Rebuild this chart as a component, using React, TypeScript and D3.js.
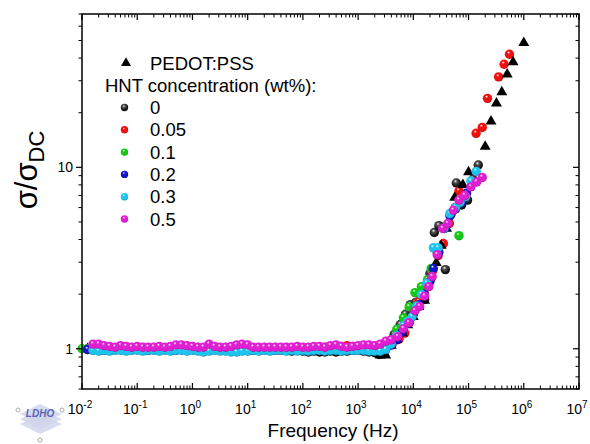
import React from "react";
import * as d3 from "d3";

// ---------- data ----------
const X_TICKS = [-2, -1, 0, 1, 2, 3, 4, 5, 6, 7];
const Y_TICKS = [1, 10];
const LEGEND_TITLE = "HNT concentration (wt%):";
const SERIES_NAMES = ["0", "0.05", "0.1", "0.2", "0.3", "0.5"];
const SERIES_COLORS = ["#111111", "#f01010", "#14c814", "#1414c8", "#1ec4ee", "#e01ed2"];

// shared plateau measurement grid (Hz)
const FLAT_F = [
  0.01, 0.0126, 0.0158, 0.02, 0.0251, 0.0316, 0.0398, 0.0501, 0.0631, 0.0794,
  0.1, 0.126, 0.158, 0.2, 0.251, 0.316, 0.398, 0.501, 0.631, 0.794,
  1, 1.26, 1.58, 2, 2.51, 3.16, 3.98, 5.01, 6.31, 7.94,
  10, 12.6, 15.8, 20, 25.1, 31.6, 39.8, 50.1, 63.1, 79.4,
  100, 126, 158, 200, 251, 316, 398, 501, 631, 794,
  1000, 1260, 1580,
];

// PEDOT:PSS (triangles)
const PED_FLAT = [
  null, 1.0, 1.0, 0.99, 1.0, 1.0, 0.99, 1.0, 1.0, 0.99,
  1.0, 1.0, 0.99, 1.0, 1.0, 0.99, 1.0, 1.0, 1.0, 0.99,
  1.0, 1.0, 0.99, 1.0, 1.0, 0.99, 1.0, 1.0, 1.0, 1.0,
  1.0, 0.99, 1.0, 1.0, 0.99, 1.0, 0.99, 1.0, 0.99, 0.99,
  0.98, 0.99, 0.98, 0.98, 0.99, 0.98, 0.99, 0.98, 0.99, 0.98,
  0.98, 0.97, 0.97,
];
const PED_RISE_F = [2000, 2510, 3160, 3980, 5010, 6310, 7940, 1e4, 1.26e4, 1.45e4, 1.6e4, 2e4, 2.6e4, 3.2e4, 4e4, 5.6e4, 7.9e4, 1e5, 2e5, 2.55e5, 3.2e5, 4e5, 5e5, 6.4e5, 1e6];
const PED_RISE_V = [0.96, 0.92, 0.92, 1.04, 1.12, 1.22, 1.35, 1.5, 1.7, 2.17, 1.84, 2.45, 2.98, 3.7, 4.6, 6.8, 8.0, 9.4, 13, 17.9, 22.5, 26, 32.6, 38, 48.5];

// 0 wt%
const S0_FLAT = [
  null, 0.99, 1.0, 0.99, 0.99, 1.0, 0.99, 0.99, 1.0, 0.99,
  0.99, 1.0, 0.99, 0.99, 0.99, 1.0, 0.99, 0.99, 0.99, 1.0,
  0.99, 0.99, 0.98, 0.99, 0.99, 0.98, 0.99, 0.99, 0.99, 0.99,
  0.99, 0.98, 0.98, 0.99, 0.98, 0.99, 0.98, 0.98, 0.97, 0.98,
  0.97, 0.96, 0.97, 0.96, 0.96, 0.97, 0.96, 0.97, 0.97, 0.98,
  0.98, 0.97, 0.96,
];
const S0_RISE_F = [2000, 2400, 2900, 3500, 4500, 5800, 7200, 8800, 1.1e4, 1.35e4, 1.6e4, 2e4, 2.4e4, 2.9e4, 3.8e4, 4.8e4, 6e4, 7.5e4, 9.6e4, 1.2e5, 1.5e5];
const S0_RISE_V = [0.95, 0.93, 0.94, 1.08, 1.2, 1.36, 1.55, 1.75, 1.8, 1.85, 1.87, 2.6, 4.37, 4.77, 2.73, 5.5, 8.2, 6.2, 6.6, 8.6, 10.3];

// 0.05 wt%
const S1_FLAT = [
  null, 1.0, 1.0, 1.0, 1.0, 0.99, 1.0, 1.0, 1.0, 1.0,
  1.0, 0.99, 1.0, 1.0, 1.0, 1.0, 0.99, 1.0, 1.0, 1.0,
  1.0, 1.0, 1.0, 0.99, 1.0, 1.0, 1.0, 1.0, 1.0, 1.0,
  1.0, 1.0, 1.0, 1.0, 1.0, 1.0, 1.01, 1.0, 1.0, 1.01,
  1.0, 1.01, 1.02, 1.01, 1.02, 1.03, 1.02, 1.03, 1.04, 1.03,
  1.03, 1.02, 1.02,
];
const S1_RISE_F = [2000, 2510, 3160, 4100, 5500, 7000, 8500, 1e4, 1.25e4, 1.55e4, 1.8e4, 2.25e4, 2.8e4, 3.5e4, 4.5e4, 5.7e4, 6.7e4, 1.37e5, 1.77e5, 2.2e5, 3.5e5, 4.4e5, 5.5e5];
const S1_RISE_V = [1.0, 0.99, 1.02, 1.05, 1.13, 1.22, 1.4, 1.6, 1.82, 2.05, 2.29, 2.7, 3.26, 3.8, 4.9, 6.0, 7.4, 15.4, 16.6, 24, 31.5, 37, 42];

// 0.1 wt%
const S2_FLAT = [
  1.0, 1.0, 0.99, 1.0, 1.0, 1.0, 0.99, 1.0, 1.0, 1.0,
  1.0, 1.0, 0.99, 1.0, 1.0, 1.0, 1.0, 0.99, 1.0, 1.0,
  1.0, 0.99, 1.0, 1.0, 1.0, 1.0, 0.99, 1.0, 1.0, 1.0,
  1.0, 1.0, 0.99, 1.0, 1.0, 1.0, 0.99, 1.0, 1.0, 0.99,
  0.99, 1.0, 0.99, 1.0, 0.99, 1.0, 1.0, 0.99, 1.0, 1.0,
  1.0, 1.0, 0.99,
];
const S2_RISE_F = [2000, 2510, 3160, 3980, 5010, 6600, 8400, 1.07e4, 1.4e4, 1.8e4, 2.1e4, 2.7e4, 6.7e4];
const S2_RISE_V = [1.0, 1.0, 1.04, 1.12, 1.28, 1.48, 1.7, 2.04, 2.2, 2.4, 2.77, 3.4, 4.2];

// 0.2 wt%
const S3_FLAT = [
  null, 0.99, 0.99, 0.99, 0.98, 0.99, 0.99, 0.99, 0.98, 0.99,
  0.99, 0.99, 0.98, 0.99, 0.99, 0.99, 0.99, 0.98, 0.99, 0.99,
  0.99, 0.98, 0.99, 0.99, 0.99, 0.98, 0.99, 0.99, 0.99, 0.98,
  0.99, 0.99, 0.98, 0.99, 0.99, 0.98, 0.99, 0.98, 0.98, 0.99,
  0.98, 0.99, 0.98, 0.99, 0.98, 0.99, 0.99, 0.98, 0.99, 0.99,
  0.99, 0.98, 0.98,
];
const S3_RISE_F = [2000, 2510, 3160, 3980, 5010, 6310, 7940, 1e4, 1.26e4, 1.58e4, 2e4, 2.3e4, 2.9e4, 3.7e4, 4.6e4, 5.8e4, 7.5e4, 9.2e4];
const S3_RISE_V = [0.98, 0.97, 0.99, 1.05, 1.12, 1.24, 1.38, 1.55, 1.75, 2.0, 2.35, 2.77, 3.4, 4.6, 5.4, 5.9, 6.4, 7.2];

// 0.3 wt%
const S4_FLAT = [
  null, null, 0.98, 0.97, 0.98, 0.97, 0.98, 0.98, 0.97, 0.98,
  0.98, 0.97, 0.98, 0.98, 0.97, 0.98, 0.97, 0.98, 0.98, 0.97,
  0.98, 0.97, 0.96, 0.97, 0.98, 0.97, 0.97, 0.96, 0.96, 0.97,
  0.97, 0.98, 0.97, 0.98, 0.97, 0.98, 0.98, 0.97, 0.98, 0.97,
  0.98, 0.97, 0.98, 0.98, 0.97, 0.98, 0.98, 0.97, 0.98, 0.98,
  0.98, 0.98, 0.97,
];
const S4_RISE_F = [2000, 2510, 3160, 3980, 5010, 6600, 8000, 9500, 1.15e4, 1.4e4, 1.75e4, 2.3e4, 2.8e4, 3.6e4, 4.6e4, 5.8e4, 7e4, 8.8e4, 1.1e5, 1.37e5];
const S4_RISE_V = [0.97, 0.97, 0.99, 1.06, 1.18, 1.34, 1.42, 1.5, 1.72, 1.99, 2.3, 3.6, 3.6, 4.6, 5.56, 6.0, 6.4, 6.9, 8.4, 9.5];

// 0.5 wt%
const S5_FLAT = [
  null, null, 1.06, 1.06, 1.04, 1.03, 1.02, 1.04, 1.03, 1.02,
  1.03, 1.02, 1.02, 1.02, 1.03, 1.02, 1.03, 1.05, 1.05, 1.04,
  1.03, 1.02, 1.02, 1.06, 1.03, 1.02, 1.02, 1.03, 1.05, 1.06,
  1.05, 1.02, 1.02, 1.02, 1.02, 1.02, 1.02, 1.02, 1.02, 1.03,
  1.02, 1.02, 1.03, 1.03, 1.02, 1.04, 1.05, 1.03, 1.02, 1.03,
  1.04, 1.05, 1.05,
];
const S5_RISE_F = [2000, 2510, 3160, 3980, 5200, 6600, 8300, 1.07e4, 1.3e4, 1.6e4, 1.9e4, 2.2e4, 2.7e4, 3.4e4, 4.2e4, 5.3e4, 6.7e4, 8.5e4, 1.1e5, 1.4e5, 1.77e5];
const S5_RISE_V = [1.04, 1.06, 1.1, 1.12, 1.165, 1.29, 1.39, 1.62, 1.71, 1.95, 2.2, 2.5, 3.3, 4.6, 4.9, 5.8, 6.6, 7.0, 7.8, 8.3, 8.8];

// ---------- helpers ----------
type Pt = { f: number; v: number };
function build(flat: (number | null)[], rf: number[], rv: number[]): Pt[] {
  const pts: Pt[] = [];
  flat.forEach((v, i) => {
    if (v != null) pts.push({ f: FLAT_F[i], v });
  });
  rf.forEach((f, i) => pts.push({ f, v: rv[i] }));
  return pts;
}

const W = 590;
const H = 444;
const L = 82, R = 579, T = 14, B = 389;
const FONT = "'Liberation Sans', Arial, Helvetica, sans-serif";

export default function App() {
  const x = d3.scaleLog().domain([1e-2, 1e7]).range([L, R]);
  const y = d3.scaleLog().domain([0.6, 70]).range([B, T]);

  const circleSeries = [
    build(S0_FLAT, S0_RISE_F, S0_RISE_V),
    build(S1_FLAT, S1_RISE_F, S1_RISE_V),
    build(S2_FLAT, S2_RISE_F, S2_RISE_V),
    build(S3_FLAT, S3_RISE_F, S3_RISE_V),
    build(S4_FLAT, S4_RISE_F, S4_RISE_V),
    build(S5_FLAT, S5_RISE_F, S5_RISE_V),
  ];
  const tri = build(PED_FLAT, PED_RISE_F, PED_RISE_V);
  const triPath = d3.symbol(d3.symbolTriangle, 52)() as string;
  const triLegend = d3.symbol(d3.symbolTriangle, 44)() as string;

  const xMinor: number[] = [];
  for (let d = -2; d < 7; d++) for (let k = 2; k <= 9; k++) xMinor.push(k * Math.pow(10, d));
  const yMinor: number[] = [0.6, 0.7, 0.8, 0.9, 2, 3, 4, 5, 6, 7, 8, 9, 20, 30, 40, 50, 60, 70];

  const r = 4.7;
  // drawing order: black, red, triangles, green, blue, cyan, magenta
  const order = [0, 1, -1, 2, 3, 4, 5];

  const legendRows = [107.5, 129.8, 152.1, 174.4, 196.7, 219];

  return (
    <svg width={W} height={H} style={{ position: "absolute", left: 0, top: 0, background: "#fff" }} fontFamily={FONT}>
      <defs>
        {SERIES_COLORS.map((c, i) => (
          <radialGradient key={i} id={`g${i}`} cx="0.45" cy="0.4" r="0.6" fx="0.4" fy="0.3">
            <stop offset="0" stopColor="#ffffff" />
            <stop offset="0.28" stopColor={i === 0 ? "#555" : c} />
            <stop offset="0.8" stopColor={c} />
            <stop offset="1" stopColor={d3.color(c)!.darker(0.8).toString()} />
          </radialGradient>
        ))}
      </defs>
      <rect x={0} y={0} width={W} height={H} fill="#fff" />

      {/* data */}
      <g>
        {order.map((si) =>
          si === -1 ? (
            <g key="tri">
              {tri.map((p, j) => (
                <path key={j} d={triPath} transform={`translate(${x(p.f)},${y(p.v)})`} fill="#000" />
              ))}
            </g>
          ) : (
            <g key={si}>
              {circleSeries[si].map((p, j) => (
                <circle key={j} cx={x(p.f)} cy={y(p.v)} r={r} fill={`url(#g${si})`} />
              ))}
            </g>
          )
        )}
      </g>

      {/* frame */}
      <rect x={L} y={T} width={R - L} height={B - T} fill="none" stroke="#000" strokeWidth={1.5} />

      {/* x ticks */}
      {X_TICKS.map((e) => {
        const xx = x(Math.pow(10, e));
        return (
          <g key={e}>
            <line x1={xx} x2={xx} y1={B} y2={B - 6} stroke="#000" strokeWidth={1.2} />
            <line x1={xx} x2={xx} y1={T} y2={T + 6} stroke="#000" strokeWidth={1.2} />
            <text x={xx - 2} y={414} fontSize={14} textAnchor="middle">
              10<tspan dy={-6} fontSize={10}>{e}</tspan>
            </text>
          </g>
        );
      })}
      {xMinor.map((v, i) => {
        const xx = x(v);
        return (
          <g key={"xm" + i}>
            <line x1={xx} x2={xx} y1={B} y2={B - 3.5} stroke="#000" strokeWidth={1} />
            <line x1={xx} x2={xx} y1={T} y2={T + 3.5} stroke="#000" strokeWidth={1} />
          </g>
        );
      })}

      {/* y ticks */}
      {Y_TICKS.map((v) => {
        const yy = y(v);
        return (
          <g key={v}>
            <line x1={L} x2={L - 6} y1={yy} y2={yy} stroke="#000" strokeWidth={1.2} />
            <line x1={R} x2={R - 6} y1={yy} y2={yy} stroke="#000" strokeWidth={1.2} />
            <text x={73} y={yy + 5} fontSize={14} textAnchor="end">{v}</text>
          </g>
        );
      })}
      {yMinor.map((v, i) => {
        const yy = y(v);
        return (
          <g key={"ym" + i}>
            <line x1={L} x2={L - 3.5} y1={yy} y2={yy} stroke="#000" strokeWidth={1} />
            <line x1={R} x2={R - 3.5} y1={yy} y2={yy} stroke="#000" strokeWidth={1} />
          </g>
        );
      })}

      {/* axis titles */}
      <text x={333} y={437} fontSize={19} textAnchor="middle">Frequency (Hz)</text>
      <text transform="translate(37,170) rotate(-90)" fontSize={31} textAnchor="middle">
        σ/σ<tspan dy={7} fontSize={22}>DC</tspan>
      </text>

      {/* legend */}
      <path d={triLegend} transform="translate(126,63)" fill="#000" />
      <text x={150} y={69.5} fontSize={18.5}>PEDOT:PSS</text>
      <text x={105} y={92} fontSize={18.5}>{LEGEND_TITLE}</text>
      {SERIES_NAMES.map((n, i) => (
        <g key={n}>
          <circle cx={124.5} cy={legendRows[i]} r={3.7} fill={`url(#g${i})`} />
          <text x={150} y={legendRows[i] + 6.5} fontSize={18.5}>{n}</text>
        </g>
      ))}

      {/* logo */}
      <g>
        {[0, 5, 10].map((k) => (
          <path key={k} d={`M20,${414 + k} L40,${404 + k} L62,${414 + k} L40,${424 + k} Z`} fill="#d0d3ea" opacity={0.8} />
        ))}
        <text x={40} y={417} fontSize={10} fontWeight="bold" fontStyle="italic" textAnchor="middle" fill="#5a66b8">LDHO</text>
        <circle cx={18} cy={410} r={2} fill="none" stroke="#999" strokeWidth={0.8} />
        <circle cx={62} cy={410} r={2} fill="none" stroke="#999" strokeWidth={0.8} />
        <circle cx={40} cy={440} r={2} fill="none" stroke="#999" strokeWidth={0.8} />
      </g>
    </svg>
  );
}
